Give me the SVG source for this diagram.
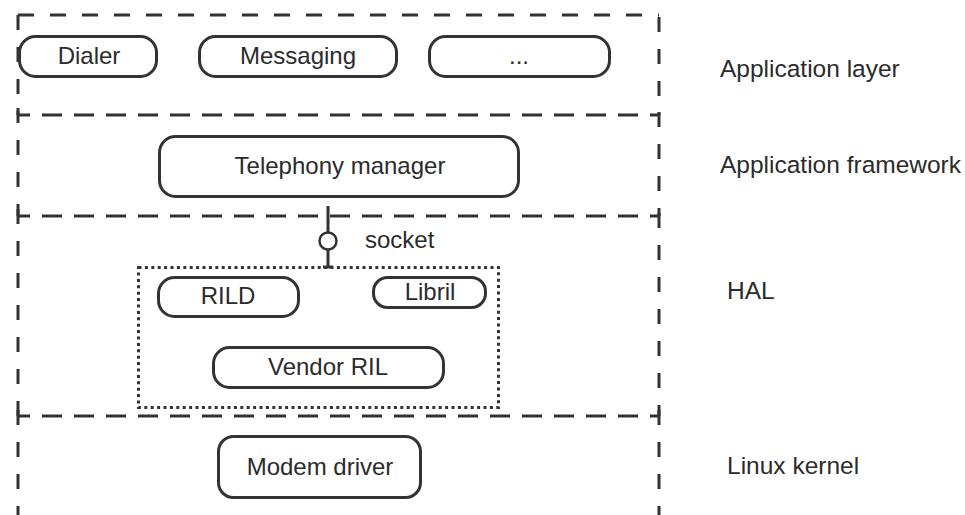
<svg xmlns="http://www.w3.org/2000/svg" width="965" height="515" viewBox="0 0 965 515">
  <style>
    .frame { fill: none; stroke: #333; stroke-width: 3; }
    .vdash { stroke-dasharray: 15 17; }
    .hdash { stroke-dasharray: 16 16; }
    .sep { stroke-dasharray: 20 12; stroke-dashoffset: 8; }
    .dotted { fill: none; stroke: #333; stroke-width: 3; stroke-dasharray: 3 3.4; }
    .node rect { fill: #fff; stroke: #333; stroke-width: 3; }
    text { font-family: "Liberation Sans", Arial, sans-serif; font-size: 24px; fill: #2b2b2b; }
    .side { font-size: 24.5px; }
    .c { text-anchor: middle; }
    .link { stroke: #333; stroke-width: 3; fill: none; }
  </style>
  <rect width="965" height="515" fill="#fff"/>

  <!-- layer frames -->
  <g id="layers">
    <path class="frame hdash" d="M18 15 H659"/>
    <path class="frame sep" d="M18 115 H659"/>
    <path class="frame sep" d="M18 216 H659"/>
    <path class="frame sep" d="M18 416 H659"/>
    <!-- left edges, one run per layer -->
    <path class="frame vdash" d="M18 15 V115"/>
    <path class="frame vdash" d="M18 108 V216"/>
    <path class="frame vdash" d="M18 209 V416"/>
    <path class="frame vdash" d="M18 410 V515"/>
    <!-- right edges -->
    <path class="frame vdash" d="M659 17 V115"/>
    <path class="frame vdash" d="M659 112 V216"/>
    <path class="frame vdash" d="M659 213 V416"/>
    <path class="frame vdash" d="M659 410 V515"/>
  </g>

  <!-- layer names -->
  <g id="layer-labels">
    <text class="side" x="720" y="77">Application layer</text>
    <text class="side" x="720" y="173">Application framework</text>
    <text class="side" x="727" y="299">HAL</text>
    <text class="side" x="727" y="474">Linux kernel</text>
  </g>

  <!-- RIL container -->
  <rect id="ril-group" class="dotted" x="138.5" y="267.5" width="360" height="140"/>

  <!-- connectors -->
  <g id="connectors">
    <path class="link" d="M328 206 V267"/>
    <path class="link" d="M323 267 H333"/>
    <circle cx="328" cy="241" r="8.5" fill="#fff" stroke="#333" stroke-width="2.5"/>
    <text x="365" y="248">socket</text>
  </g>

  <g id="dialer" class="node">
    <rect x="19.5" y="36.5" width="137" height="40" rx="16"/>
    <text class="c" x="89" y="64">Dialer</text>
  </g>
  <g id="messaging" class="node">
    <rect x="199.5" y="36.5" width="197" height="40" rx="16"/>
    <text class="c" x="298" y="64">Messaging</text>
  </g>
  <g id="more-apps" class="node">
    <rect x="429.5" y="36.5" width="180" height="40" rx="16"/>
    <text class="c" x="519" y="64">...</text>
  </g>
  <g id="telephony-manager" class="node">
    <rect x="159.5" y="136.5" width="359" height="60" rx="16"/>
    <text class="c" x="340" y="174">Telephony manager</text>
  </g>
  <g id="rild" class="node">
    <rect x="158.5" y="277.5" width="140" height="39" rx="16"/>
    <text class="c" x="228" y="304">RILD</text>
  </g>
  <g id="libril" class="node">
    <rect x="373.5" y="277.5" width="112" height="30" rx="14"/>
    <text class="c" x="430" y="300">Libril</text>
  </g>
  <g id="vendor-ril" class="node">
    <rect x="213.5" y="347.5" width="230" height="40" rx="16"/>
    <text class="c" x="328" y="375">Vendor RIL</text>
  </g>
  <g id="modem-driver" class="node">
    <rect x="218.5" y="436.5" width="202" height="61" rx="15"/>
    <text class="c" x="320" y="475">Modem driver</text>
  </g>
</svg>
